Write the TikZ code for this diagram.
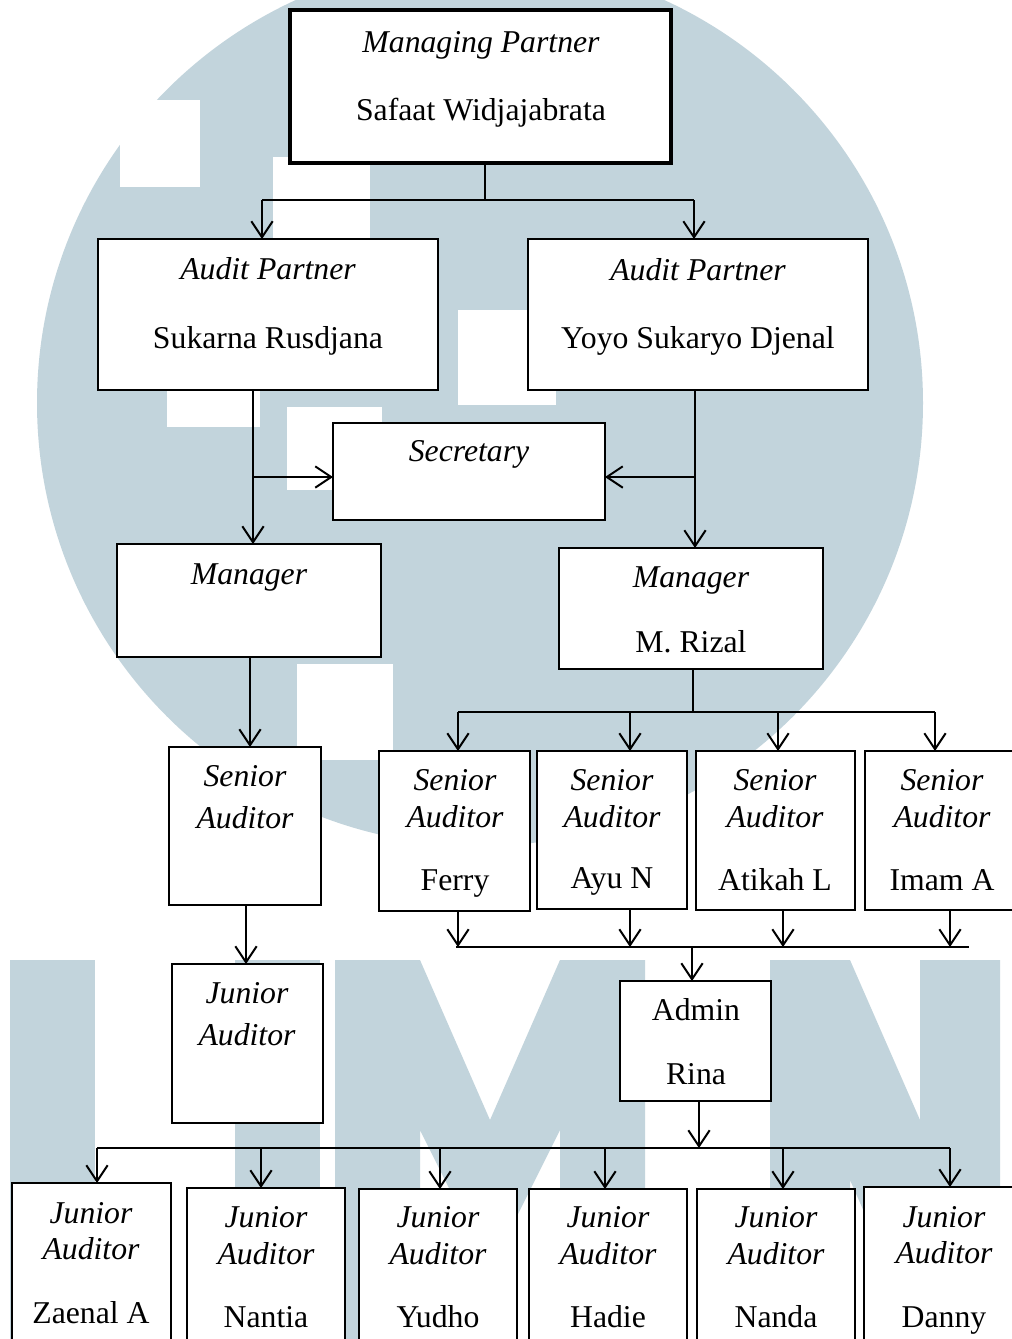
\documentclass[tikz,border=0pt]{standalone}
\usepackage{fontspec}
\setmainfont{Liberation Serif}
\usetikzlibrary{arrows.meta,fit}
\definecolor{wm}{RGB}{194,212,220}
\begin{document}
\begin{tikzpicture}[x=0.75pt,y=-0.75pt,
  box/.style={draw=black, line width=1pt, fill=white, inner sep=0pt, outer sep=0pt},
  mpbox/.style={box, line width=2.5pt},
  lbl/.style={anchor=base, inner sep=0pt, font=\fontsize{23.8}{28}\selectfont},
  ilbl/.style={anchor=base, inner sep=0pt, font=\fontsize{23.8}{28}\selectfont\itshape},
  conn/.style={draw=black, line width=1.5pt},
  arr/.style={conn, -{Straight Barb[length=12pt,width=16pt,line width=1.5pt]}}
]
\clip (0,0) rectangle (1012,1339);
\fill[white] (0,0) rectangle (1012,1339);
% watermark
\fill[wm] (480,403) circle[radius=443];
\fill[white] (120,100) rectangle (200,187);
\fill[white] (273,157) rectangle (370,238);
\fill[white] (458,310) rectangle (556,405);
\fill[white] (167,390) rectangle (260,427);
\fill[white] (287,407) rectangle (382,490);
\fill[white] (297,664) rectangle (393,760);
\fill[wm] (10,960) rectangle (95,1339);
\fill[wm] (235,960) rectangle (320,1339);
\fill[wm] (335,960) -- (420,960) -- (490,1120) -- (560,960) -- (645,960) -- (645,1339) -- (560,1339) -- (560,1130) -- (510,1230) -- (470,1230) -- (420,1130) -- (420,1339) -- (335,1339) -- cycle;
\fill[wm] (770,960) -- (850,960) -- (920,1120) -- (920,960) -- (1000,960) -- (1000,1339) -- (920,1339) -- (850,1180) -- (850,1339) -- (770,1339) -- cycle;

% boxes
\node[mpbox, fit={(290,10)(671,163)}] (mp) {};
\node[box, fit={(98,239)(438,390)}] (apl) {};
\node[box, fit={(528,239)(868,390)}] (apr) {};
\node[box, fit={(333,423)(605,520)}] (sec) {};
\node[box, fit={(117,544)(381,657)}] (mgl) {};
\node[box, fit={(559,548)(823,669)}] (mgr) {};
\node[box, fit={(169,747)(321,905)}] (sal) {};
\node[box, fit={(172,964)(323,1123)}] (jal) {};
\node[box, fit={(379,751)(530,911)}] (s1) {};
\node[box, fit={(537,751)(687,909)}] (s2) {};
\node[box, fit={(696,751)(855,910)}] (s3) {};
\node[box, fit={(865,751)(1020,910)}] (s4) {};
\node[box, fit={(620,981)(771,1101)}] (adm) {};
\node[box, fit={(12,1183)(171,1350)}] (j1) {};
\node[box, fit={(187,1188)(345,1350)}] (j2) {};
\node[box, fit={(359,1189)(517,1350)}] (j3) {};
\node[box, fit={(529,1189)(687,1350)}] (j4) {};
\node[box, fit={(697,1189)(855,1350)}] (j5) {};
\node[box, fit={(864,1187)(1020,1350)}] (j6) {};

% texts
\node[ilbl] (mpt1) at (481,52) {Managing Partner};
\node[lbl] (mpt2) at (481,120) {Safaat Widjajabrata};
\node[ilbl] (aplt1) at (268,279) {Audit Partner};
\node[lbl] (aplt2) at (268,348) {Sukarna Rusdjana};
\node[ilbl] (aprt1) at (698,280) {Audit Partner};
\node[lbl] (aprt2) at (698,348) {Yoyo Sukaryo Djenal};
\node[ilbl] (sect) at (469,461) {Secretary};
\node[ilbl] (mglt) at (249,584) {Manager};
\node[ilbl] (mgrt1) at (691,587) {Manager};
\node[lbl] (mgrt2) at (691,652) {M. Rizal};
\node[ilbl] (salt1) at (245,786) {Senior};
\node[ilbl] (salt2) at (245,828) {Auditor};
\node[ilbl] (jalt1) at (247,1003) {Junior};
\node[ilbl] (jalt2) at (247,1045) {Auditor};
\node[ilbl] (s1t1) at (455,790) {Senior};
\node[ilbl] (s1t2) at (455,827) {Auditor};
\node[lbl] (s1t3) at (455,890) {Ferry};
\node[ilbl] (s2t1) at (612,790) {Senior};
\node[ilbl] (s2t2) at (612,827) {Auditor};
\node[lbl] (s2t3) at (612,888) {Ayu N};
\node[ilbl] (s3t1) at (775,790) {Senior};
\node[ilbl] (s3t2) at (775,827) {Auditor};
\node[lbl] (s3t3) at (775,890) {Atikah L};
\node[ilbl] (s4t1) at (942,790) {Senior};
\node[ilbl] (s4t2) at (942,827) {Auditor};
\node[lbl] (s4t3) at (942,890) {Imam A};
\node[lbl] (admt1) at (696,1020) {Admin};
\node[lbl] (admt2) at (696,1084) {Rina};
\node[ilbl] (j1t1) at (91,1223) {Junior};
\node[ilbl] (j1t2) at (91,1259) {Auditor};
\node[lbl] (j1t3) at (91,1323) {Zaenal A};
\node[ilbl] (j2t1) at (266,1227) {Junior};
\node[ilbl] (j2t2) at (266,1264) {Auditor};
\node[lbl] (j2t3) at (266,1327) {Nantia};
\node[ilbl] (j3t1) at (438,1227) {Junior};
\node[ilbl] (j3t2) at (438,1264) {Auditor};
\node[lbl] (j3t3) at (438,1327) {Yudho};
\node[ilbl] (j4t1) at (608,1227) {Junior};
\node[ilbl] (j4t2) at (608,1264) {Auditor};
\node[lbl] (j4t3) at (608,1327) {Hadie};
\node[ilbl] (j5t1) at (776,1227) {Junior};
\node[ilbl] (j5t2) at (776,1264) {Auditor};
\node[lbl] (j5t3) at (776,1327) {Nanda};
\node[ilbl] (j6t1) at (944,1227) {Junior};
\node[ilbl] (j6t2) at (944,1263) {Auditor};
\node[lbl] (j6t3) at (944,1327) {Danny};

% junction coordinates
\coordinate (a0) at (485,200);
\coordinate (a1) at (262,200);
\coordinate (a2) at (694,200);
\coordinate (bl) at (253,477);
\coordinate (br) at (695,477);
\coordinate (c0) at (693,712);
\coordinate (c1) at (458,712);
\coordinate (c2) at (630,712);
\coordinate (c3) at (778,712);
\coordinate (c4) at (935,712);
\coordinate (d1) at (458,947);
\coordinate (d2) at (630,947);
\coordinate (d3) at (783,947);
\coordinate (d4) at (950,947);
\coordinate (dl) at (456,947);
\coordinate (dr) at (969,947);
\coordinate (d0) at (692,947);
\coordinate (e0) at (699,1148);
\coordinate (e1) at (97,1148);
\coordinate (e2) at (261,1148);
\coordinate (e3) at (440,1148);
\coordinate (e4) at (605,1148);
\coordinate (e5) at (783,1148);
\coordinate (e6) at (950,1148);

% connectors
\draw[conn] (mp.south -| a0) -- (a0);
\draw[conn] (a1) -- (a2);
\draw[arr] (a1) -- (a1 |- apl.north);
\draw[arr] (a2) -- (a2 |- apr.north);

\draw[arr] (apl.south -| bl) -- (bl |- mgl.north);
\draw[arr] (bl) -- (bl -| sec.west);
\draw[arr] (apr.south -| br) -- (br |- mgr.north);
\draw[arr] (br) -- (br -| sec.east);

\draw[arr] (mgl.south -| 250,0) -- (sal.north -| 250,0);
\draw[arr] (sal.south -| 246,0) -- (jal.north -| 246,0);

\draw[conn] (mgr.south -| c0) -- (c0);
\draw[conn] (c1) -- (c4);
\draw[arr] (c1) -- (c1 |- s1.north);
\draw[arr] (c2) -- (c2 |- s2.north);
\draw[arr] (c3) -- (c3 |- s3.north);
\draw[arr] (c4) -- (c4 |- s4.north);

\draw[arr] (s1.south -| d1) -- (d1);
\draw[arr] (s2.south -| d2) -- (d2);
\draw[arr] (s3.south -| d3) -- (d3);
\draw[arr] (s4.south -| d4) -- (d4);
\draw[conn] (dl) -- (dr);
\draw[arr] (d0) -- (d0 |- adm.north);

\draw[arr] (adm.south -| e0) -- (e0);
\draw[conn] (e1) -- (e6);
\draw[arr] (e1) -- (e1 |- j1.north);
\draw[arr] (e2) -- (e2 |- j2.north);
\draw[arr] (e3) -- (e3 |- j3.north);
\draw[arr] (e4) -- (e4 |- j4.north);
\draw[arr] (e5) -- (e5 |- j5.north);
\draw[arr] (e6) -- (e6 |- j6.north);
\end{tikzpicture}
\end{document}
